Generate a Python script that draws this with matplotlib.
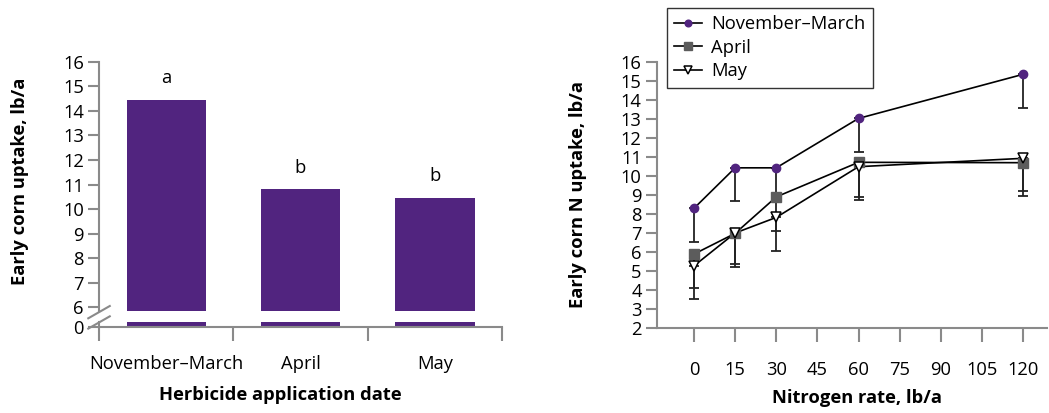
import numpy as np
import matplotlib.pyplot as plt
from matplotlib.lines import Line2D

plt.rcParams['font.family'] = ['Open Sans', 'DejaVu Sans']

# left panel data
dates = ['November–March', 'April', 'May']
uptake = [14.45, 10.8, 10.47]
letters = ['a', 'b', 'b']

# right panel data
n_rate = [0, 15, 30, 60, 120]
nov = [8.30, 10.43, 10.43, 13.03, 15.35]
nov_low = [6.55, 8.68, 8.95, 11.27, 13.58]
april = [5.89, 6.98, 8.90, 10.72, 10.70]
april_low = [4.12, 5.35, 7.12, 8.92, 9.20]
may = [5.27, 7.00, 7.82, 10.49, 10.93]
may_low = [3.55, 5.22, 6.05, 8.73, 8.93]

purple = '#51247F'
axis_gray = '#8a8a8a'
fs = 13.2

fig = plt.figure(figsize=(10.49, 4.13), dpi=100)

# ---------- left: bars with broken axis ----------
ax1 = fig.add_axes([0.0944, 0.2082, 0.3842, 0.6424])
base = 5.2      # where "0" sits on the broken axis
gap_lo, gap_hi = 5.4, 5.87
x = np.arange(len(dates))
w = 0.59
ax1.bar(x, [gap_lo - base] * len(x), w, bottom=base, color=purple)
ax1.bar(x, np.array(uptake) - gap_hi, w, bottom=gap_hi, color=purple)
for xi, v, t in zip(x, uptake, letters):
    ax1.text(xi, v + 0.5, t, ha='center', va='bottom', fontsize=fs)

ax1.set_xlim(-0.5, 2.5)
ax1.set_ylim(base, 16)
ax1.set_yticks([base] + list(range(6, 17)))
ax1.set_yticklabels(['0'] + [str(i) for i in range(6, 17)])
ax1.set_xticks(x)
ax1.set_xticklabels(dates)
ax1.set_xticks([-0.5, 0.5, 1.5, 2.5], minor=True)
ax1.tick_params(axis='x', which='major', length=0, pad=20, labelsize=fs)
ax1.tick_params(axis='x', which='minor', length=10, width=1.5, color=axis_gray)
ax1.tick_params(axis='y', length=8, width=1.5, color=axis_gray, labelsize=fs, pad=3)
for s in ['top', 'right']:
    ax1.spines[s].set_visible(False)
ax1.spines['left'].set_bounds(gap_hi, 16)
for s in ['left', 'bottom']:
    ax1.spines[s].set_color(axis_gray)
    ax1.spines[s].set_linewidth(1.5)
ax1.plot([-0.5, -0.5], [base, gap_lo], color=axis_gray, lw=1.5, clip_on=False)
# break marks
for yc in [(gap_lo + gap_hi) / 2 + 0.17, (gap_lo + gap_hi) / 2 - 0.25]:
    ax1.plot([-0.58, -0.42], [yc - 0.25, yc + 0.25], color=axis_gray, lw=1.5, clip_on=False)

fig.text(0.0186, 0.562, 'Early corn uptake, lb/a', rotation=90, ha='center', va='center',
         fontsize=fs, fontweight='bold')
fig.text(0.267, 0.043, 'Herbicide application date', ha='center', va='center',
         fontsize=fs, fontweight='bold')

# ---------- right: N rate lines ----------
ax2 = fig.add_axes([0.6263, 0.2058, 0.3718, 0.6441])
series = [
    ('November–March', nov, nov_low, dict(marker='o', ms=6, mfc=purple, mec=purple)),
    ('April', april, april_low, dict(marker='s', ms=6.5, mfc='#5c5c5c', mec='#5c5c5c')),
    ('May', may, may_low, dict(marker='v', ms=7.5, mfc='white', mec='black', mew=1.1)),
]
handles = []
for name, y, low, mk in series:
    y = np.array(y)
    lo = y - np.array(low)
    ax2.errorbar(n_rate, y, yerr=[lo, np.zeros_like(lo)], fmt='none', ecolor='#222222',
                 elinewidth=1.3, capsize=3.5, capthick=1.3, zorder=2)
    ax2.plot(n_rate, y, color='black', lw=1.2, zorder=3)
    ax2.plot(n_rate, y, ls='none', zorder=4, **mk)
    lmk = dict(mk)
    lmk['ms'] = mk['ms'] * 0.8
    handles.append(Line2D([], [], color='black', lw=1.2, label=name, **lmk))

ax2.set_xlim(-13.5, 128.75)
ax2.set_ylim(2, 16)
ax2.set_yticks(range(2, 17))
ax2.set_xticks(range(0, 121, 15))
ax2.tick_params(axis='x', length=10, width=1.5, color=axis_gray, labelsize=fs, pad=14)
ax2.tick_params(axis='y', length=8, width=1.5, color=axis_gray, labelsize=fs, pad=3)
for s in ['top', 'right']:
    ax2.spines[s].set_visible(False)
for s in ['left', 'bottom']:
    ax2.spines[s].set_color(axis_gray)
    ax2.spines[s].set_linewidth(1.5)

leg = fig.legend(handles=handles, loc='upper left', bbox_to_anchor=(0.636, 0.981),
                 fontsize=fs, frameon=True, fancybox=False, handlelength=1.5,
                 handletextpad=0.5, borderpad=0.4, labelspacing=0.3, borderaxespad=0)
leg.get_frame().set_edgecolor('black')
leg.get_frame().set_linewidth(1.0)

fig.text(0.551, 0.53, 'Early corn N uptake, lb/a', rotation=90, ha='center', va='center',
         fontsize=fs, fontweight='bold')
fig.text(0.817, 0.036, 'Nitrogen rate, lb/a', ha='center', va='center',
         fontsize=fs, fontweight='bold')

fig.savefig('out.png', dpi=100)
